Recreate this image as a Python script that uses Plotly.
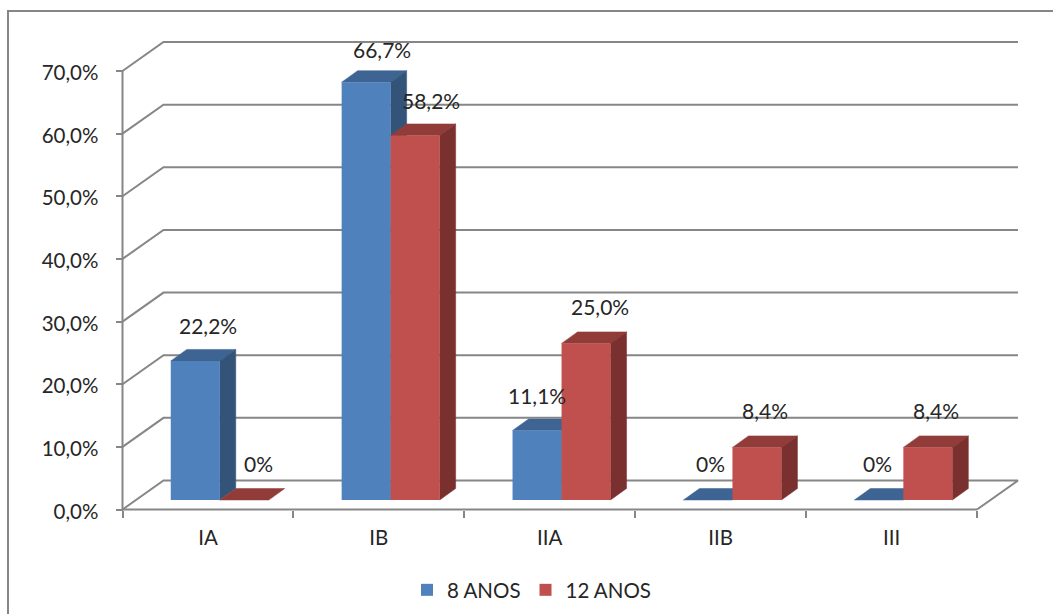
import plotly.graph_objects as go

# Chart data
categories = ["IA", "IB", "IIA", "IIB", "III"]
values_8 = [22.2, 66.7, 11.1, 0, 0]
values_12 = [0, 58.2, 25.0, 8.4, 8.4]
y_ticks = [0, 10, 20, 30, 40, 50, 60, 70]

# Canvas and axis frame, in pixels
W, H = 1053, 614
LEFT, RIGHT, BOTTOM, TOP = 122.5, 977, 509.5, 71
N = len(categories)
UNIT_X = (RIGHT - LEFT) / N
UNIT_Y = (BOTTOM - TOP) / 70

# Oblique projection: floor depth, where the bars stand on it, and bar depth
WALL_DX, WALL_DY = 41 / UNIT_X, 29 / UNIT_Y
STAND_DX, STAND_DY = 11.8 / UNIT_X, 9.5 / UNIT_Y
BAR_DX, BAR_DY = 16 / UNIT_X, 11.5 / UNIT_Y
BAR_W = 49 / UNIT_X

BLUE, BLUE_TOP, BLUE_SIDE = "#4F81BD", "#3E6494", "#335478"
RED, RED_TOP, RED_SIDE = "#C0504D", "#923C3A", "#7A302E"
GRID = "#868686"
TEXT = "#262626"
FONT = "Lato"


def pct(v, digits=1):
    return f"{v:.{digits}f}%".replace(".", ",")


fig = go.Figure()


def add_frame_line(xs, ys):
    fig.add_trace(go.Scatter(
        x=xs, y=ys, mode="lines", line=dict(color=GRID, width=2),
        showlegend=False, hoverinfo="skip", zorder=0,
    ))


# Wall gridlines, the floor outline and the two front axis lines
for v in y_ticks:
    xs = [0, WALL_DX, N + WALL_DX]
    ys = [v, v + WALL_DY, v + WALL_DY]
    if v == 0:
        xs.append(N)
        ys.append(0)
    add_frame_line(xs, ys)
add_frame_line([0, 0], [0, y_ticks[-1]])
add_frame_line([0, N], [0, 0])


def add_series(name, values, shift, color, top, side, layer):
    """Draw one series: top and side faces behind, front face as a bar."""
    for i, v in enumerate(values):
        x0 = i + 0.5 + STAND_DX + shift
        x1 = x0 + BAR_W
        y0 = STAND_DY
        y1 = STAND_DY + v
        fig.add_trace(go.Scatter(
            x=[x0, x1, x1 + BAR_DX, x0 + BAR_DX, x0],
            y=[y1, y1, y1 + BAR_DY, y1 + BAR_DY, y1],
            mode="lines", fill="toself", fillcolor=top, line=dict(color=top, width=0.5),
            showlegend=False, hoverinfo="skip", zorder=layer,
        ))
        if v > 0:
            fig.add_trace(go.Scatter(
                x=[x1, x1 + BAR_DX, x1 + BAR_DX, x1, x1],
                y=[y0, y0 + BAR_DY, y1 + BAR_DY, y1, y0],
                mode="lines", fill="toself", fillcolor=side, line=dict(color=side, width=0.5),
                showlegend=False, hoverinfo="skip", zorder=layer,
            ))
    fig.add_trace(go.Bar(
        x=[i + 0.5 for i in range(N)], y=values, base=STAND_DY,
        width=BAR_W, offset=STAND_DX + shift, name=name,
        marker=dict(color=color, line=dict(width=0)), zorder=layer + 1,
    ))


add_series("8 ANOS", values_8, -BAR_W, BLUE, BLUE_TOP, BLUE_SIDE, 1)
add_series("12 ANOS", values_12, 0, RED, RED_TOP, RED_SIDE, 3)

# Value labels sit above each bar; pixel nudges keep them clear of neighbours
nudges_8 = [(12.5, 35), (15.5, 33), (-0.5, 35), (2.5, 37), (-1.5, 37)]
nudges_12 = [(14.5, 37), (15.5, 35), (13.5, 37), (8.5, 37), (8.5, 37)]
annotations = []
for values, shift, nudges in ((values_8, -BAR_W, nudges_8), (values_12, 0, nudges_12)):
    for i, v in enumerate(values):
        annotations.append(dict(
            x=i + 0.5 + STAND_DX + shift + BAR_W / 2, y=STAND_DY + v,
            xref="x", yref="y", text="0%" if v == 0 else pct(v), showarrow=False,
            xshift=nudges[i][0], yshift=nudges[i][1],
            font=dict(family=FONT, size=21, color=TEXT),
        ))

fig.update_layout(
    width=W, height=H, autosize=False,
    margin=dict(l=0, r=0, t=0, b=0, autoexpand=False),
    paper_bgcolor="white", plot_bgcolor="rgba(0,0,0,0)",
    barmode="overlay",
    annotations=annotations,
    font=dict(family=FONT, size=20.5, color=TEXT),
    xaxis=dict(
        domain=[0, 1], range=[-LEFT / UNIT_X, (W - LEFT) / UNIT_X],
        anchor="free", position=(H - BOTTOM) / H,
        tickvals=[i + 0.5 for i in range(N)], ticktext=categories,
        ticks="", showgrid=False, zeroline=False, showline=False,
        ticklabelstandoff=14,
        minor=dict(tickvals=list(range(N + 1)), ticks="outside",
                   ticklen=7, tickwidth=2, tickcolor=GRID, showgrid=False),
        tickfont=dict(family=FONT, size=20.5, color=TEXT),
    ),
    yaxis=dict(
        domain=[0, 1], range=[-(H - BOTTOM) / UNIT_Y, BOTTOM / UNIT_Y],
        anchor="free", position=LEFT / W,
        tickvals=y_ticks, ticktext=[pct(v) for v in y_ticks],
        ticks="outside", ticklen=7, tickwidth=2, tickcolor=GRID,
        showgrid=False, zeroline=False, showline=False,
        ticklabelstandoff=13, ticklabelshift=2,
        tickfont=dict(family=FONT, size=20.5, color=TEXT),
    ),
    legend=dict(
        orientation="h", x=(407 / W), xanchor="left", y=(H - 590) / H, yanchor="middle",
        font=dict(family=FONT, size=20.5, color=TEXT), traceorder="normal",
        bgcolor="rgba(0,0,0,0)",
    ),
    shapes=[dict(
        type="path", xref="paper", yref="paper", layer="below",
        path=f"M {8 / W} 0 L {8 / W} {(H - 11) / H} L 1 {(H - 11) / H}",
        line=dict(color=GRID, width=2),
    )],
)

fig.write_html("out.html", config=dict(displayModeBar=False))
